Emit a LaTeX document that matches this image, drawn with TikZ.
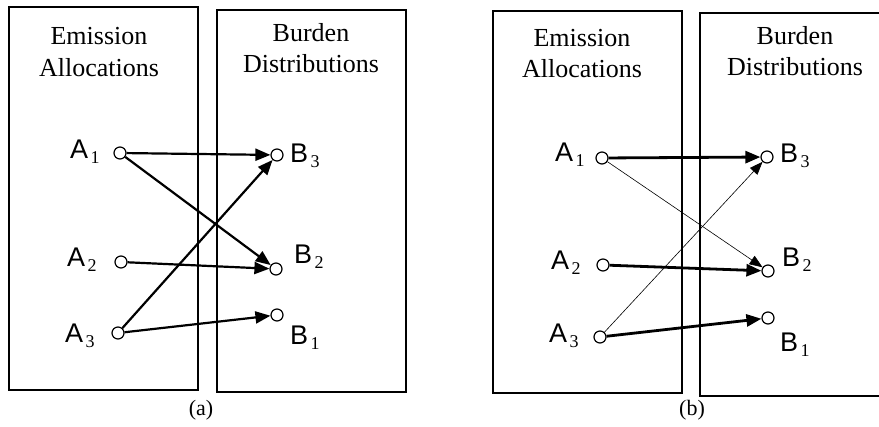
\documentclass[tikz,border=0pt]{standalone}
\usepackage{fontspec}
\setmainfont{Liberation Serif}
\newfontfamily\arialf{Liberation Sans}
\usetikzlibrary{arrows.meta}
\newcommand{\lbl}[2]{{\arialf\fontsize{27}{27}\selectfont #1}\hspace{2.5pt}\raisebox{-5pt}{\fontsize{18}{18}\selectfont #2}}
\begin{document}
\begin{tikzpicture}[x=1pt,y=-1pt,
  panel/.style={draw,line width=1.2pt},
  title/.style={font=\fontsize{26}{30}\selectfont, anchor=base, inner sep=0pt},
  pt/.style={circle,draw,fill=white,line width=1.2pt,minimum size=12pt,inner sep=0pt},
  lab/.style={inner sep=0pt, anchor=base west},
  captext/.style={font=\fontsize{22}{24}\selectfont, anchor=base, inner sep=0pt},
  arr/.style={-{Triangle[length=15pt,width=12pt]},line width=2.2pt},
  thickarr/.style={-{Triangle[length=15pt,width=12pt]},line width=2.8pt},
  thinarr/.style={-{Triangle[length=13pt,width=10pt]},line width=0.6pt}]
\useasboundingbox (0,0) rectangle (879,427);
% ---------- panel (a)
\draw[panel] (9,7) rectangle (198,390);
\draw[panel] (217,10) rectangle (406,392);
\node[title] (ta1) at (99,45) {Emission};
\node[title] (ta2) at (99,77) {Allocations};
\node[title] (tb1) at (311,42) {Burden};
\node[title] (tb2) at (311,73) {Distributions};
\node[pt] (a1) at (120,153) {};
\node[pt] (a2) at (121,262) {};
\node[pt] (a3) at (118,333) {};
\node[pt] (b3) at (277,155) {};
\node[pt] (b2) at (276,269) {};
\node[pt] (b1) at (277,315) {};
\node[lab] (la1) at (70,159) {\lbl{A}{1}};
\node[lab] (la2) at (67,267) {\lbl{A}{2}};
\node[lab] (la3) at (65,343) {\lbl{A}{3}};
\node[lab] (lb3) at (290,163) {\lbl{B}{3}};
\node[lab] (lb2) at (294,264) {\lbl{B}{2}};
\node[lab] (lb1) at (290,345) {\lbl{B}{1}};
\node[captext] (capa) at (201,416) {(a)};
\draw[arr] (a1) -- (b3);
\draw[arr] (a1) -- (b2);
\draw[arr] (a2) -- (b2);
\draw[arr] (a3) -- (b3);
\draw[arr] (a3) -- (b1);
% ---------- panel (b)
\draw[panel] (493,11) rectangle (682,393);
\draw[panel] (880,13) -- (700,13) -- (700,396) -- (880,396);
\node[title] (tc1) at (582,47) {Emission};
\node[title] (tc2) at (582,78) {Allocations};
\node[title] (td1) at (795,45) {Burden};
\node[title] (td2) at (795,76) {Distributions};
\node[pt] (c1) at (602,158) {};
\node[pt] (c2) at (603,265) {};
\node[pt] (c3) at (600,337) {};
\node[pt] (d3) at (767,157) {};
\node[pt] (d2) at (768,271) {};
\node[pt] (d1) at (768,318) {};
\node[lab] (lc1) at (555,162) {\lbl{A}{1}};
\node[lab] (lc2) at (551,270) {\lbl{A}{2}};
\node[lab] (lc3) at (549,343) {\lbl{A}{3}};
\node[lab] (ld3) at (780,163) {\lbl{B}{3}};
\node[lab] (ld2) at (782,267) {\lbl{B}{2}};
\node[lab] (ld1) at (780,352) {\lbl{B}{1}};
\node[captext] (capb) at (692,416) {(b)};
\draw[thickarr] (c1) -- (d3);
\draw[thinarr] (c1) -- (d2);
\draw[thickarr] (c2) -- (d2);
\draw[thinarr] (c3) -- (d3);
\draw[thickarr] (c3) -- (d1);
\end{tikzpicture}
\end{document}
